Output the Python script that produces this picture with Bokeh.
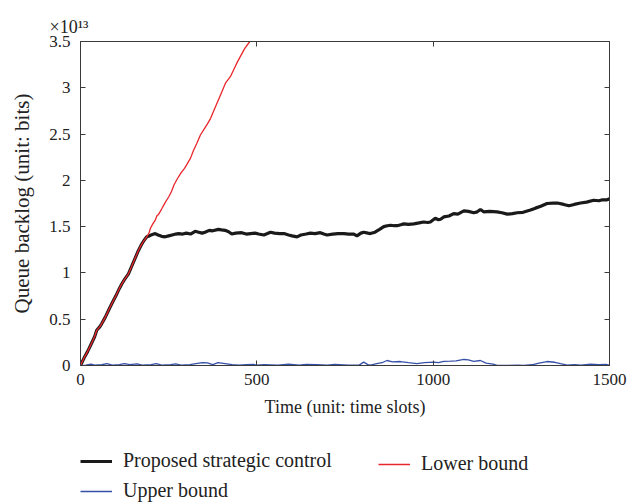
from bokeh.plotting import figure
from bokeh.layouts import column
from bokeh.models import (Range1d, LinearAxis, FixedTicker, Legend, LegendItem)
from bokeh.embed import file_html
from bokeh.resources import INLINE

# ---------------- data (queue backlog in units of 1e13 bits) ----------------
black_t = [0, 10, 20, 30, 40, 46, 55, 60, 70, 80, 89, 100, 110, 117, 125, 136, 145, 155, 164, 172,
           180, 188, 195, 200, 212, 220, 230, 240, 250, 260, 270, 278, 290, 300, 312, 325, 335, 345, 353, 365,
           375, 391, 400, 410, 420, 429, 440, 457, 470, 482, 495, 505, 520, 530, 539, 550, 565, 577, 590, 600,
           614, 625, 640, 652, 665, 680, 690, 699, 715, 730, 747, 760, 775, 784, 795, 803, 815, 822, 835, 848,
           860, 870, 879, 890, 898, 908, 917, 930, 945, 960, 973, 985, 992, 1006, 1015, 1021, 1030, 1045, 1058, 1070,
           1087, 1100, 1115, 1125, 1134, 1143, 1160, 1181, 1195, 1210, 1225, 1238, 1255, 1276, 1290, 1305, 1323, 1340, 1352, 1370,
           1385, 1400, 1418, 1435, 1455, 1470, 1480, 1493, 1500]
black_v = [0.0, 0.08, 0.15, 0.23, 0.31, 0.38, 0.42, 0.45, 0.52, 0.60, 0.67, 0.75, 0.83, 0.88, 0.93, 0.99, 1.07, 1.16, 1.24, 1.30,
           1.35, 1.39, 1.40, 1.41, 1.425, 1.41, 1.395, 1.39, 1.40, 1.41, 1.42, 1.425, 1.42, 1.43, 1.42, 1.45, 1.44, 1.43, 1.44, 1.46,
           1.455, 1.47, 1.465, 1.46, 1.445, 1.42, 1.43, 1.435, 1.42, 1.425, 1.43, 1.42, 1.41, 1.425, 1.44, 1.43, 1.425, 1.425, 1.41, 1.40,
           1.39, 1.41, 1.42, 1.43, 1.425, 1.435, 1.42, 1.41, 1.42, 1.425, 1.425, 1.42, 1.42, 1.40, 1.43, 1.44, 1.43, 1.425, 1.44, 1.47,
           1.50, 1.51, 1.515, 1.51, 1.51, 1.52, 1.53, 1.525, 1.53, 1.54, 1.55, 1.545, 1.55, 1.59, 1.575, 1.58, 1.605, 1.615, 1.64, 1.635,
           1.67, 1.665, 1.65, 1.66, 1.685, 1.66, 1.665, 1.66, 1.65, 1.635, 1.64, 1.65, 1.655, 1.68, 1.70, 1.72, 1.75, 1.755, 1.755, 1.74,
           1.725, 1.74, 1.755, 1.765, 1.785, 1.78, 1.79, 1.79, 1.80]

red_t = [0, 10, 20, 30, 40, 46, 55, 60, 70, 80, 89, 100, 110, 117, 125, 136, 145, 155, 164, 172,
         180, 188, 195, 198, 205, 212, 217, 221, 230, 240, 250, 258, 265, 275, 285, 295, 303, 312, 320, 330,
         340, 350, 360, 369, 380, 390, 400, 411, 425, 435, 445, 455, 465, 480, 495]
red_v = [0.0, 0.08, 0.15, 0.23, 0.31, 0.38, 0.42, 0.45, 0.52, 0.60, 0.67, 0.75, 0.83, 0.88, 0.93, 0.99, 1.07, 1.16, 1.24, 1.30,
         1.35, 1.39, 1.44, 1.48, 1.53, 1.57, 1.62, 1.63, 1.69, 1.76, 1.82, 1.88, 1.95, 2.02, 2.08, 2.13, 2.18, 2.24, 2.32, 2.40,
         2.49, 2.55, 2.61, 2.67, 2.77, 2.86, 2.95, 3.05, 3.12, 3.20, 3.28, 3.35, 3.42, 3.50, 3.61]

blue_t = [0, 15, 30, 40, 60, 75, 90, 110, 125, 140, 160, 175, 200, 215, 230, 255, 270, 285, 310, 345,
          360, 375, 390, 410, 430, 450, 470, 490, 500, 520, 560, 590, 620, 640, 670, 700, 720, 760, 790, 803,
          815, 822, 840, 855, 869, 885, 907, 930, 954, 975, 1002, 1015, 1030, 1049, 1065, 1087, 1100, 1115, 1134, 1150,
          1170, 1181, 1210, 1240, 1257, 1280, 1300, 1323, 1345, 1361, 1380, 1400, 1420, 1446, 1470, 1490, 1500]
blue_v = [0.0, 0.005, 0.015, 0.005, 0.008, 0.02, 0.005, 0.01, 0.02, 0.01, 0.018, 0.005, 0.01, 0.02, 0.005, 0.01, 0.018, 0.005, 0.01, 0.03,
          0.028, 0.01, 0.03, 0.02, 0.01, 0.005, 0.01, 0.012, 0.003, 0.008, 0.005, 0.015, 0.005, 0.012, 0.01, 0.005, 0.012, 0.005, 0.004, 0.036,
          0.01, 0.004, 0.02, 0.03, 0.054, 0.04, 0.043, 0.03, 0.02, 0.03, 0.036, 0.03, 0.045, 0.047, 0.05, 0.065, 0.06, 0.045, 0.054, 0.025,
          0.015, 0.002, 0.0, 0.003, 0.0, 0.008, 0.025, 0.043, 0.035, 0.02, 0.003, 0.008, 0.005, 0.015, 0.008, 0.012, 0.005]

x_ticks = [0, 500, 1000, 1500]
y_ticks = [0, 0.5, 1, 1.5, 2, 2.5, 3, 3.5]
y_tick_labels = {0: "0", 0.5: "0.5", 1: "1", 1.5: "1.5", 2: "2", 2.5: "2.5", 3: "3", 3.5: "3.5"}
exponent_text = "×10¹³"

names = ["Proposed strategic control", "Lower bound", "Upper bound"]
colors = ["#1a1a1a", "#e8262c", "#3650a8"]

FONT = "Liberation Serif"
AX = "#3a3a3a"
TXT = "#222222"

p = figure(width=632, height=440, output_backend="svg", toolbar_location=None,
           x_range=Range1d(0, 1500), y_range=Range1d(0, 3.5),
           min_border_left=80, min_border_right=23, min_border_top=41, min_border_bottom=75,
           x_axis_label="Time (unit: time slots)", y_axis_label="Queue backlog (unit: bits)",
           title=exponent_text)
p.grid.visible = False
p.outline_line_color = AX
p.outline_line_width = 1
p.background_fill_color = "white"
p.border_fill_color = "white"

p.title.text_font = FONT
p.title.text_font_size = "18px"
p.title.text_font_style = "normal"
p.title.text_color = TXT
p.title.align = "left"
p.title.offset = -31
p.title.standoff = 9

for ax in [p.xaxis[0], p.yaxis[0]]:
    ax.axis_line_color = AX
    ax.major_tick_line_color = AX
    ax.minor_tick_line_color = None
    ax.major_tick_in = 5
    ax.major_tick_out = 0
    ax.major_label_text_font = FONT
    ax.major_label_text_font_size = "17px"
    ax.major_label_text_color = TXT
    ax.axis_label_text_font = FONT
    ax.axis_label_text_font_style = "normal"
    ax.axis_label_text_color = TXT
p.xaxis[0].axis_label_text_font_size = "18px"
p.yaxis[0].axis_label_text_font_size = "21px"
p.xaxis[0].ticker = FixedTicker(ticks=x_ticks)
p.yaxis[0].ticker = FixedTicker(ticks=y_ticks)
p.yaxis[0].major_label_overrides = y_tick_labels
p.xaxis[0].major_label_standoff = 8
p.yaxis[0].major_label_standoff = 10
p.xaxis[0].axis_label_standoff = 9
p.yaxis[0].axis_label_standoff = 12

# mirrored ticks on top and right
for loc, tk in [("above", x_ticks), ("right", y_ticks)]:
    a = LinearAxis(ticker=FixedTicker(ticks=tk))
    a.axis_line_color = AX
    a.major_tick_line_color = AX
    a.minor_tick_line_color = None
    a.major_tick_in = 5
    a.major_tick_out = 0
    a.major_label_standoff = 0
    a.major_label_text_font_size = "0px"
    a.major_label_text_alpha = 0
    p.add_layout(a, loc)

r_black = p.line(black_t, black_v, line_color=colors[0], line_width=3.2)
r_blue = p.line(blue_t, blue_v, line_color=colors[2], line_width=1.3)
r_red = p.line(red_t, red_v, line_color=colors[1], line_width=1.3)

# ---------------- legend panel below (its frame aligns with the plot frame) ----------------
q = figure(width=632, height=63, output_backend="svg", toolbar_location=None,
           x_range=Range1d(0, 1), y_range=Range1d(10, 11),
           min_border=0, min_border_left=0, min_border_right=0, min_border_top=0, min_border_bottom=0)
q.axis.visible = False
q.grid.visible = False
q.outline_line_color = None
q.background_fill_color = "white"
q.border_fill_color = "white"
# same series, kept outside this panel's visible range: only their legend swatches show
l_black = q.line(black_t, black_v, line_color=colors[0], line_width=3)
l_red = q.line(red_t, red_v, line_color=colors[1], line_width=1.3)
l_blue = q.line(blue_t, blue_v, line_color=colors[2], line_width=1.3)

def make_legend(items, x, y):
    return Legend(items=items, location=(x, y), orientation="vertical",
                  glyph_width=32, glyph_height=20, label_height=20, spacing=7,
                  label_standoff=11, padding=0, margin=0,
                  border_line_color=None, background_fill_alpha=0,
                  label_text_font=FONT, label_text_font_size="20px", label_text_color=TXT)

q.add_layout(make_legend([LegendItem(label=names[0], renderers=[l_black]),
                          LegendItem(label=names[2], renderers=[l_blue])], 0, 1), "center")
q.add_layout(make_legend([LegendItem(label=names[1], renderers=[l_red])], 298, 28), "center")

layout = column(p, q, spacing=0)
open("out.html", "w").write(file_html(layout, INLINE))
